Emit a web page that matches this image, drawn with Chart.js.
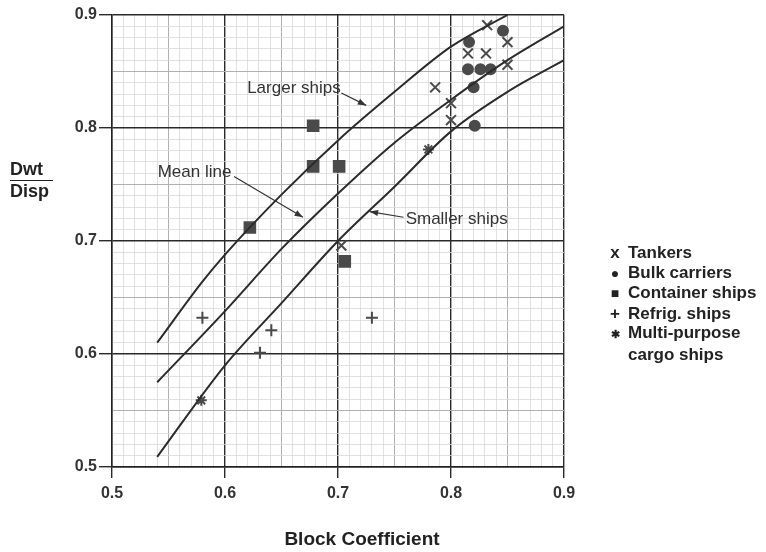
<!DOCTYPE html>
<html>
<head>
<meta charset="utf-8">
<script src="https://cdn.jsdelivr.net/npm/chart.js@4.4.1/dist/chart.umd.min.js"></script>
<style>
  body { margin: 0; background: #fff; }
  #wrap { position: relative; width: 766px; height: 552px; }
  #chart { position: absolute; left: 0; top: 0; }
  #ylabel {
    position: absolute; left: 10px; top: 160px;
    font: bold 18px "Liberation Sans", Arial, sans-serif; color: #222;
    line-height: 19px;
  }
  #ylabel .bar { width: 43px; border-top: 1.5px solid #222; margin: 1px 0 1px 0; }
  #xlabel {
    position: absolute; left: 262px; width: 200px; top: 528px; text-align: center;
    font: bold 19px "Liberation Sans", Arial, sans-serif; color: #222;
  }
  #legend {
    position: absolute; left: 607px; top: 243px;
    font: bold 17px "Liberation Sans", Arial, sans-serif; color: #222;
    line-height: 19.6px; white-space: nowrap;
  }
  #legend .mk { display: inline-block; width: 16px; text-align: center; margin-right: 5px; }
  #legend .indent { padding-left: 21px; }
</style>
</head>
<body>
<div id="wrap">
  <canvas id="chart" width="766" height="552"></canvas>
  <div id="ylabel"><div>Dwt</div><div class="bar"></div><div>Disp</div></div>
  <div id="xlabel">Block Coefficient</div>
  <div id="legend">
    <div><span class="mk">x</span>Tankers</div>
    <div><span class="mk" style="font-size:14px">●</span>Bulk carriers</div>
    <div><span class="mk" style="font-size:14px">■</span>Container ships</div>
    <div><span class="mk">+</span>Refrig. ships</div>
    <div><span class="mk" style="font-size:11px">✱</span>Multi-purpose</div>
    <div class="indent">cargo ships</div>
  </div>
</div>
<script>
// Trend curves (block coefficient -> Dwt/Disp)
const largerX = [0.54, 0.58, 0.6, 0.65, 0.7, 0.75, 0.8, 0.85];
const largerY = [0.61, 0.664, 0.688, 0.741, 0.789, 0.832, 0.872, 0.9];
const meanX = [0.54, 0.6, 0.65, 0.7, 0.75, 0.8, 0.85, 0.9];
const meanY = [0.575, 0.638, 0.693, 0.742, 0.787, 0.825, 0.86, 0.89];
const smallerX = [0.54, 0.6, 0.65, 0.7, 0.75, 0.8, 0.85, 0.9];
const smallerY = [0.509, 0.59, 0.645, 0.70, 0.748, 0.797, 0.832, 0.86];

// Ship data points
const tankerX = [0.832, 0.815, 0.831, 0.850, 0.850, 0.786, 0.800, 0.800, 0.703];
const tankerY = [0.891, 0.866, 0.866, 0.876, 0.856, 0.836, 0.822, 0.807, 0.696];
const bulkX = [0.846, 0.816, 0.815, 0.826, 0.835, 0.820, 0.821];
const bulkY = [0.886, 0.876, 0.852, 0.852, 0.852, 0.836, 0.802];
const containerX = [0.678, 0.678, 0.701, 0.622, 0.706];
const containerY = [0.802, 0.766, 0.766, 0.712, 0.682];
const refrigX = [0.580, 0.641, 0.631, 0.730];
const refrigY = [0.632, 0.621, 0.601, 0.632];
const multiX = [0.579, 0.780];
const multiY = [0.559, 0.781];

// Axis ticks
const tickMin = 0.5;
const tickMax = 0.9;

// Curve notes with arrows (data coordinates)
const noteText = ['Larger ships', 'Mean line', 'Smaller ships'];
const noteX = [0.661, 0.573, 0.805];
const noteY = [0.835, 0.761, 0.719];
const arrowFromX = [0.703, 0.608, 0.758];
const arrowFromY = [0.831, 0.757, 0.721];
const arrowToX = [0.725, 0.669, 0.728];
const arrowToY = [0.820, 0.721, 0.726];

const pts = (xs, ys) => xs.map((x, i) => ({ x: x, y: ys[i] }));

function curve(xs, ys) {
    return {
        data: pts(xs, ys),
        showLine: true,
        borderColor: '#2b2b2b',
        borderWidth: 2,
        pointRadius: 0,
        fill: false,
        cubicInterpolationMode: 'monotone'
    };
}

function marker(xs, ys, style, radius, filled) {
    return {
        data: pts(xs, ys),
        showLine: false,
        pointStyle: style,
        pointRadius: radius,
        pointBorderWidth: 2,
        pointBorderColor: '#4a4a4a',
        pointBackgroundColor: filled ? '#4a4a4a' : 'rgba(0,0,0,0)'
    };
}

function gridKind(v) {
    const n = Math.round(v * 100);
    if (n % 10 === 0) return 2;
    if (n % 5 === 0) return 1;
    return 0;
}

const tickFont = { family: '"Liberation Sans", Arial, sans-serif', size: 16, weight: 'bold' };

function axis(isX) {
    return {
        type: 'linear',
        min: tickMin,
        max: tickMax,
        border: { display: true, color: '#222', width: 1.5 },
        grid: {
            color: c => ['#d9d9d9', '#b0b0b0', '#2a2a2a'][gridKind(c.tick.value)],
            lineWidth: c => [0.8, 1, 1.4][gridKind(c.tick.value)],
            tickColor: c => gridKind(c.tick.value) === 2 ? '#2a2a2a' : 'rgba(0,0,0,0)',
            tickLength: isX ? 11 : 13,
            tickWidth: 1.4
        },
        ticks: {
            stepSize: 0.01,
            autoSkip: false,
            maxRotation: 0,
            padding: isX ? 6 : 2,
            color: '#333',
            font: tickFont,
            callback: v => gridKind(v) === 2 ? v.toFixed(1) : ''
        },
        afterFit: s => {
            if (isX) s.height = 85; else s.width = 112;
        }
    };
}

const notesPlugin = {
    id: 'notes',
    afterDatasetsDraw(chart) {
        const { ctx, scales: { x, y } } = chart;
        ctx.save();
        ctx.font = '17px "Liberation Sans", Arial, sans-serif';
        ctx.fillStyle = '#333';
        ctx.strokeStyle = '#333';
        ctx.lineWidth = 1.2;
        ctx.textAlign = 'center';
        ctx.textBaseline = 'middle';
        noteText.forEach((t, i) => {
            ctx.fillText(t, x.getPixelForValue(noteX[i]), y.getPixelForValue(noteY[i]));
            const x0 = x.getPixelForValue(arrowFromX[i]);
            const y0 = y.getPixelForValue(arrowFromY[i]);
            const x1 = x.getPixelForValue(arrowToX[i]);
            const y1 = y.getPixelForValue(arrowToY[i]);
            ctx.beginPath();
            ctx.moveTo(x0, y0);
            ctx.lineTo(x1, y1);
            ctx.stroke();
            const a = Math.atan2(y1 - y0, x1 - x0);
            ctx.beginPath();
            ctx.moveTo(x1, y1);
            ctx.lineTo(x1 - 9 * Math.cos(a - 0.35), y1 - 9 * Math.sin(a - 0.35));
            ctx.lineTo(x1 - 9 * Math.cos(a + 0.35), y1 - 9 * Math.sin(a + 0.35));
            ctx.closePath();
            ctx.fill();
        });
        ctx.restore();
    }
};

new Chart(document.getElementById('chart'), {
    type: 'scatter',
    data: {
        datasets: [
            curve(largerX, largerY),
            curve(meanX, meanY),
            curve(smallerX, smallerY),
            marker(tankerX, tankerY, 'crossRot', 7, false),
            marker(bulkX, bulkY, 'circle', 5, true),
            marker(containerX, containerY, 'rect', 7.5, true),
            marker(refrigX, refrigY, 'cross', 6, false),
            marker(multiX, multiY, 'star', 5.5, false)
        ]
    },
    options: {
        responsive: false,
        animation: false,
        layout: { padding: { top: 15, right: 202, left: 0, bottom: 0 } },
        plugins: {
            legend: { display: false },
            tooltip: { enabled: false }
        },
        scales: {
            x: axis(true),
            y: axis(false)
        }
    },
    plugins: [notesPlugin]
});
</script>
</body>
</html>
